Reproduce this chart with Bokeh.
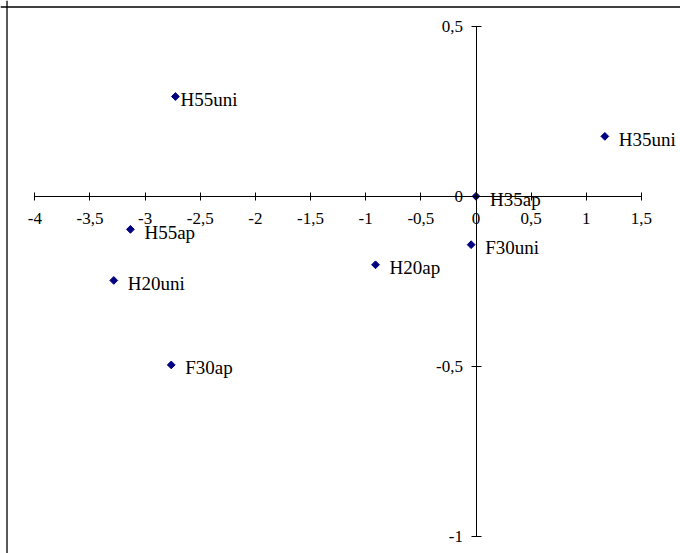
import math
from bokeh.plotting import figure
from bokeh.models import ColumnDataSource, FixedTicker, Range1d, Span
from bokeh.core.properties import value
from bokeh.embed import file_html
from bokeh.resources import INLINE

# ---- data ----
names = ["H55uni", "H35uni", "H35ap", "H55ap", "H20uni", "F30uni", "H20ap", "F30ap"]
x_vals = [-2.725, 1.168, 0.0, -3.133, -3.284, -0.044, -0.911, -2.763]
y_vals = [0.293, 0.176, 0.0, -0.097, -0.247, -0.142, -0.201, -0.495]

x_ticks = [-4, -3.5, -3, -2.5, -2, -1.5, -1, -0.5, 0, 0.5, 1, 1.5]
x_tick_labels = ["-4", "-3,5", "-3", "-2,5", "-2", "-1,5", "-1", "-0,5", "0", "0,5", "1", "1,5"]
y_ticks = [-1, -0.5, 0, 0.5]
y_tick_labels = ["-1", "-0,5", "0", "0,5"]

# label horizontal offsets (style, px)
label_dx = [5 if n == "H55uni" else 14 for n in names]

src = ColumnDataSource(dict(x=x_vals, y=y_vals, name=names, dx=label_dx))

x0, x1 = -4.311, 1.854
y0, y1 = -1.0487, 0.5749

p = figure(width=680, height=553, x_range=Range1d(x0, x1), y_range=Range1d(y0, y1),
           output_backend="svg", toolbar_location=None, min_border=0)
p.grid.visible = False
p.outline_line_color = None
p.background_fill_color = "white"
p.border_fill_color = "white"

for ax, ticks, labels, tin in ((p.xaxis[0], x_ticks, x_tick_labels, 4),
                               (p.yaxis[0], y_ticks, y_tick_labels, 5)):
    ax.fixed_location = 0
    ax.ticker = FixedTicker(ticks=ticks)
    ax.major_label_overrides = {t: l for t, l in zip(ticks, labels)}
    ax.bounds = (min(ticks), max(ticks))
    ax.minor_tick_line_color = None
    ax.major_tick_in = tin
    ax.major_tick_out = tin
    ax.axis_line_color = "black"
    ax.axis_line_width = 1
    ax.major_tick_line_color = "black"
    ax.major_label_text_font = "Liberation Serif"
    ax.major_label_text_font_size = "17px"
    ax.major_label_text_color = "black"

p.xaxis[0].major_label_standoff = 13
p.yaxis[0].major_label_standoff = 8

# chart-area border (left and top edges visible in the window)
p.add_layout(Span(location=-4.252, dimension="height", line_color="black", line_width=1.3))
p.add_layout(Span(location=0.5558, dimension="width", line_color="black", line_width=1.3))

p.scatter("x", "y", source=src, marker="square", angle=math.pi / 4, size=5.5,
          fill_color="#000080", line_color="#000080")
p.text("x", "y", text="name", source=src, x_offset="dx", y_offset=3,
       text_font=value("Liberation Serif"), text_font_size="19px",
       text_baseline="middle", text_align="left", text_color="black")

open("out.html", "w").write(file_html(p, INLINE))
